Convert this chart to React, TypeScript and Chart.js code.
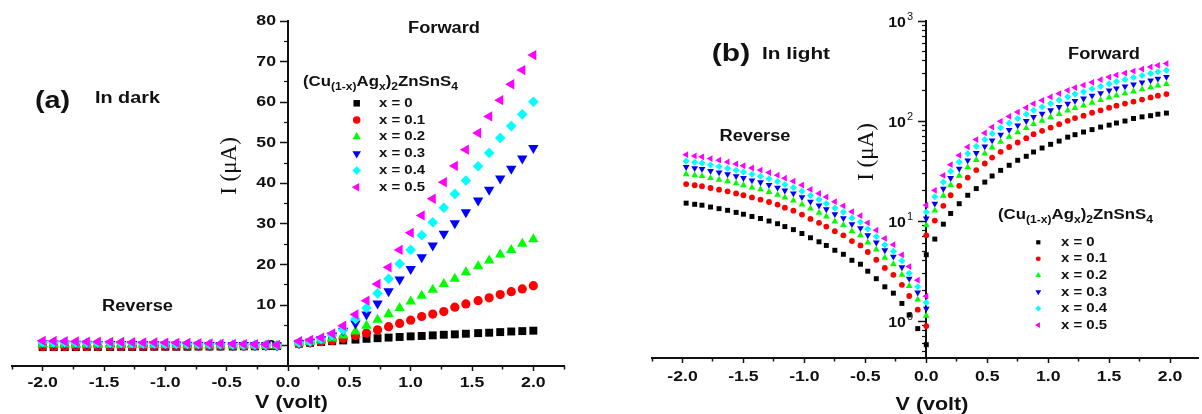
import React, { useEffect, useRef } from "react";
import { Chart, registerables } from "chart.js";
import { drawPoint } from "chart.js/helpers";

Chart.register(...registerables);

const SANS = "'Liberation Sans', Arial, Helvetica, sans-serif";
const SERIF = "'Liberation Serif', 'Times New Roman', Times, serif";
const INK = "#111111";

// ---------- series (shared) ----------
const seriesLabels = ["x = 0", "x = 0.1", "x = 0.2", "x = 0.3", "x = 0.4", "x = 0.5"];
const seriesColors = ["#000000", "#ff0000", "#00ff00", "#0000ff", "#00ffff", "#ff00ff"];
const seriesShapes = ["rect", "circle", "triangle", "triangle", "rectRot", "triangle"];
const seriesRotations = [0, 0, 0, 180, 0, -90];
const darkRadii = [5.6, 4.6, 6, 6, 5.3, 6];
const lightRadii = [3.5, 2.9, 3.9, 3.9, 3.5, 3.9];

// ---------- (a) In dark : linear ----------
const darkXRev = [-2.0, -1.91, -1.82, -1.73, -1.64, -1.55, -1.45, -1.36, -1.27, -1.18, -1.09, -1.0, -0.91, -0.82, -0.73, -0.64, -0.55, -0.45, -0.36, -0.27, -0.18, -0.09];
const darkXFwd = [0.09, 0.18, 0.27, 0.36, 0.45, 0.55, 0.64, 0.73, 0.82, 0.91, 1.0, 1.09, 1.18, 1.27, 1.36, 1.45, 1.55, 1.64, 1.73, 1.82, 1.91, 2.0];

const darkRev0 = [-0.35, -0.35, -0.35, -0.35, -0.3, -0.3, -0.3, -0.3, -0.3, -0.3, -0.25, -0.25, -0.25, -0.25, -0.2, -0.2, -0.2, -0.2, -0.15, -0.15, -0.1, -0.1];
const darkRev1 = [-0.2, -0.2, -0.2, -0.2, -0.2, -0.15, -0.15, -0.15, -0.15, -0.15, -0.1, -0.1, -0.1, -0.1, -0.1, -0.05, -0.05, -0.05, -0.05, 0.0, 0.0, 0.0];
const darkRev2 = [0.3, 0.3, 0.3, 0.25, 0.25, 0.25, 0.2, 0.2, 0.2, 0.2, 0.15, 0.15, 0.15, 0.1, 0.1, 0.1, 0.1, 0.05, 0.05, 0.05, 0.0, 0.0];
const darkRev3 = [0.6, 0.55, 0.55, 0.5, 0.5, 0.45, 0.45, 0.4, 0.4, 0.35, 0.35, 0.3, 0.3, 0.25, 0.25, 0.2, 0.2, 0.15, 0.15, 0.1, 0.1, 0.05];
const darkRev4 = [0.8, 0.75, 0.75, 0.7, 0.7, 0.65, 0.6, 0.6, 0.55, 0.5, 0.5, 0.45, 0.4, 0.4, 0.35, 0.3, 0.3, 0.25, 0.2, 0.2, 0.15, 0.1];
const darkRev5 = [1.2, 1.15, 1.1, 1.05, 1.0, 1.0, 0.95, 0.9, 0.85, 0.8, 0.8, 0.75, 0.7, 0.65, 0.6, 0.55, 0.5, 0.45, 0.4, 0.35, 0.3, 0.2];

const darkFwd0 = [0.5, 0.7, 0.9, 1.1, 1.3, 1.5, 1.7, 1.85, 2.0, 2.15, 2.3, 2.4, 2.55, 2.7, 2.8, 2.95, 3.1, 3.2, 3.35, 3.5, 3.6, 3.7];
const darkFwd1 = [0.5, 0.7, 1.0, 1.3, 1.8, 2.5, 3.1, 3.9, 4.7, 5.5, 6.3, 7.2, 7.8, 8.4, 9.5, 10.3, 11.1, 11.8, 12.6, 13.3, 14.0, 14.8];
const darkFwd2 = [0.6, 0.9, 1.3, 1.8, 2.5, 3.5, 4.9, 6.4, 7.8, 9.3, 10.9, 12.3, 13.8, 15.2, 16.5, 18.1, 19.6, 21.0, 22.5, 23.6, 25.1, 26.2];
const darkFwd3 = [0.6, 1.0, 1.6, 2.5, 3.7, 5.5, 7.7, 10.4, 13.4, 16.3, 18.9, 21.8, 24.7, 27.6, 30.2, 32.9, 35.8, 38.4, 41.2, 43.6, 46.1, 48.7];
const darkFwd4 = [0.7, 1.0, 1.6, 2.5, 3.9, 6.6, 9.3, 12.9, 16.5, 20.2, 23.6, 27.2, 30.4, 34.0, 37.4, 40.7, 44.2, 47.5, 51.2, 54.1, 57.0, 60.1];
const darkFwd5 = [1.1, 1.4, 2.0, 3.0, 4.9, 7.7, 11.1, 15.2, 19.3, 23.6, 27.8, 32.1, 36.2, 40.3, 44.3, 48.3, 52.4, 56.5, 60.5, 64.4, 67.9, 71.6];

const darkXTicks = [-2.0, -1.5, -1.0, -0.5, 0.0, 0.5, 1.0, 1.5, 2.0];
const darkXTickLabels = ["-2.0", "-1.5", "-1.0", "-0.5", "0.0", "0.5", "1.0", "1.5", "2.0"];
const darkXMinorTicks = [-2.25, -1.75, -1.25, -0.75, -0.25, 0.25, 0.75, 1.25, 1.75, 2.25];
const darkYTicks = [0, 10, 20, 30, 40, 50, 60, 70, 80];
const darkYTickLabels = ["0", "10", "20", "30", "40", "50", "60", "70", "80"];
const darkYMinorTicks = [5, 15, 25, 35, 45, 55, 65, 75];

// ---------- (b) In light : logarithmic ----------
const lightXRev = [-1.97, -1.90, -1.84, -1.77, -1.70, -1.63, -1.56, -1.50, -1.43, -1.36, -1.29, -1.22, -1.16, -1.09, -1.02, -0.95, -0.88, -0.82, -0.75, -0.68, -0.61, -0.54, -0.48, -0.41, -0.34, -0.27, -0.20, -0.14, -0.07, 0.0];
const lightXFwd = [0.0, 0.07, 0.14, 0.20, 0.27, 0.34, 0.41, 0.48, 0.54, 0.61, 0.68, 0.75, 0.82, 0.88, 0.95, 1.02, 1.09, 1.16, 1.22, 1.29, 1.36, 1.43, 1.50, 1.56, 1.63, 1.70, 1.77, 1.84, 1.90, 1.97];

const lightRev0 = [15.1, 14.7, 14.4, 13.8, 13.3, 12.8, 12.2, 11.7, 11.1, 10.6, 10.0, 9.4, 8.8, 8.2, 7.5, 6.8, 6.2, 5.7, 5.1, 4.65, 4.05, 3.7, 3.15, 2.65, 2.2, 1.9, 1.5, 1.15, 0.84, 0.58];
const lightRev1 = [23.4, 22.8, 22.3, 21.4, 20.6, 19.8, 18.9, 18.1, 17.2, 16.4, 15.5, 14.6, 13.6, 12.7, 11.6, 10.5, 9.6, 8.8, 7.9, 7.2, 6.3, 5.7, 4.9, 4.1, 3.4, 2.9, 2.3, 1.78, 1.3, 0.89];
const lightRev2 = [29.4, 28.7, 28.1, 26.9, 25.9, 25.0, 23.8, 22.8, 21.6, 20.7, 19.5, 18.3, 17.2, 16.0, 14.6, 13.3, 12.1, 11.1, 9.9, 9.1, 7.9, 7.2, 6.1, 5.2, 4.3, 3.7, 2.9, 2.24, 1.64, 1.13];
const lightRev3 = [34.7, 33.8, 33.1, 31.7, 30.6, 29.4, 28.1, 26.9, 25.5, 24.4, 23.0, 21.6, 20.2, 18.9, 17.3, 15.6, 14.3, 13.1, 11.7, 10.7, 9.3, 8.5, 7.2, 6.1, 5.1, 4.4, 3.45, 2.65, 1.93, 1.33];
const lightRev4 = [39.9, 38.8, 38.0, 36.4, 35.1, 33.8, 32.2, 30.9, 29.3, 28.0, 26.4, 24.8, 23.2, 21.6, 19.8, 18.0, 16.4, 15.0, 13.5, 12.3, 10.7, 9.8, 8.3, 7.0, 5.8, 5.0, 4.0, 3.0, 2.2, 1.53];
const lightRev5 = [46.1, 44.8, 43.9, 42.1, 40.6, 39.0, 37.2, 35.7, 33.9, 32.3, 30.5, 28.7, 26.8, 25.0, 22.9, 20.7, 18.9, 17.4, 15.6, 14.2, 12.4, 11.3, 9.6, 8.1, 6.7, 5.8, 4.6, 3.5, 2.56, 1.77];

const lightFwd0 = [4.6, 6.6, 9.3, 11.9, 14.9, 18.1, 21.1, 24.5, 28.2, 32.1, 36.1, 40.5, 44.4, 49, 53.7, 58.5, 63, 69, 73, 77.6, 82, 87, 91, 95.5, 100, 106, 110, 113, 117, 120];
const lightFwd1 = [7.2, 10.1, 14.2, 18.1, 22.5, 27.2, 32.3, 37.6, 43.1, 49.2, 55, 61, 67.3, 73.8, 79.7, 86, 93, 100.5, 107, 113, 121, 128, 136, 142.5, 149.5, 156.5, 164, 172, 179, 186];
const lightFwd2 = [9.1, 12.7, 17.9, 22.9, 28.4, 34.4, 40.8, 47.4, 54.4, 62, 69.4, 76.9, 85, 93, 100.6, 109, 117.5, 127, 135, 142.5, 152.5, 162, 172, 180, 189, 197.5, 207, 217, 226, 234];
const lightFwd3 = [10.6, 14.9, 21, 26.9, 33.4, 40.4, 47.9, 55.8, 64, 73, 81.6, 90.4, 100, 109.5, 118, 128, 138, 149, 159, 168, 179, 190, 202, 212, 222, 232, 243, 255, 265, 276];
const lightFwd4 = [12.3, 17.5, 24.6, 31.5, 39, 47.3, 56, 65.3, 74.8, 85.4, 95.5, 106, 117, 128, 138, 150, 162, 175, 186, 196, 210, 223, 236, 248, 260, 272, 285, 298, 310, 322];
const lightFwd5 = [14.4, 20.3, 28.6, 36.6, 45.4, 55, 65.2, 75.9, 87, 99.3, 111, 123, 136, 149, 161, 174, 188, 203, 216, 228, 244, 259, 275, 288, 302, 316, 331, 347, 361, 375];

const lightXTicks = [-2.0, -1.5, -1.0, -0.5, 0.0, 0.5, 1.0, 1.5, 2.0];
const lightXTickLabels = ["-2.0", "-1.5", "-1.0", "-0.5", "0.0", "0.5", "1.0", "1.5", "2.0"];
const lightXMinorTicks = [-2.25, -1.75, -1.25, -0.75, -0.25, 0.25, 0.75, 1.25, 1.75];
const lightYTicks = [1, 10, 100, 1000];
const lightYExponents = ["0", "1", "2", "3"];
const lightYMinorTicks = [0.5, 0.6, 0.7, 0.8, 0.9, 2, 3, 4, 5, 6, 7, 8, 9, 20, 30, 40, 50, 60, 70, 80, 90, 200, 300, 400, 500, 600, 700, 800, 900];

const darkRevSets = [darkRev0, darkRev1, darkRev2, darkRev3, darkRev4, darkRev5];
const darkFwdSets = [darkFwd0, darkFwd1, darkFwd2, darkFwd3, darkFwd4, darkFwd5];
const lightRevSets = [lightRev0, lightRev1, lightRev2, lightRev3, lightRev4, lightRev5];
const lightFwdSets = [lightFwd0, lightFwd1, lightFwd2, lightFwd3, lightFwd4, lightFwd5];

// ---------- text helpers ----------
function txt(ctx: CanvasRenderingContext2D, s: string, x: number, y: number, font: string, align: CanvasTextAlign = "left", sx = 1.18) {
  ctx.save();
  ctx.font = font;
  ctx.fillStyle = INK;
  ctx.textBaseline = "middle";
  ctx.textAlign = align;
  ctx.translate(x, y);
  ctx.scale(sx, 1);
  ctx.fillText(s, 0, 0);
  ctx.restore();
}

type Seg = { t: string; sub?: boolean; sup?: boolean; bold?: boolean };
function rich(ctx: CanvasRenderingContext2D, segs: Seg[], x: number, y: number, size: number, sx: number) {
  let cx = x;
  for (const sg of segs) {
    const fs = sg.sub || sg.sup ? size * 0.72 : size;
    const dy = sg.sub ? size * 0.36 : sg.sup ? -size * 0.36 : 0;
    ctx.save();
    ctx.font = `bold ${fs}px ${SANS}`;
    ctx.fillStyle = INK;
    ctx.textBaseline = "middle";
    ctx.textAlign = "left";
    const w = ctx.measureText(sg.t).width * sx;
    ctx.translate(cx, y + dy);
    ctx.scale(sx, 1);
    ctx.fillText(sg.t, 0, 0);
    ctx.restore();
    cx += w;
  }
}

const formulaSegs: Seg[] = [
  { t: "(Cu" }, { t: "(1-x)", sub: true }, { t: "Ag" }, { t: "x", sub: true }, { t: ")" }, { t: "2", sub: true }, { t: "ZnSnS" }, { t: "4", sub: true },
];

function drawLegend(ctx: CanvasRenderingContext2D, ox: number, titleX: number, titleY: number, markX: number, textX: number, rowY: number, step: number, radii: number[], k: number) {
  rich(ctx, formulaSegs, titleX - ox, titleY, 14, 1.2);
  for (let i = 0; i < seriesLabels.length; i++) {
    const y = rowY + i * step;
    ctx.save();
    ctx.fillStyle = seriesColors[i];
    ctx.strokeStyle = seriesColors[i];
    drawPoint(ctx, { pointStyle: seriesShapes[i] as any, radius: radii[i] * k, rotation: seriesRotations[i], borderWidth: 0 } as any, markX - ox, y);
    ctx.restore();
    txt(ctx, seriesLabels[i], textX - ox, y, `bold 13px ${SANS}`, "left", 1.15);
  }
}

function yLabelRot(ctx: CanvasRenderingContext2D, x: number, y: number) {
  ctx.save();
  ctx.font = `23px ${SERIF}`;
  ctx.fillStyle = INK;
  ctx.textAlign = "center";
  ctx.textBaseline = "middle";
  ctx.translate(x, y);
  ctx.rotate(-Math.PI / 2);
  ctx.fillText("I (\u03bcA)", 0, 0);
  ctx.restore();
}

const tickFont = `bold 14.5px ${SANS}`;

const darkDeco = {
  id: "darkDeco",
  beforeDatasetsDraw(chart: any) {
    const ctx = chart.ctx as CanvasRenderingContext2D;
    const xs = chart.scales.x, ys = chart.scales.y;
    darkXTicks.forEach((v, i) => txt(ctx, darkXTickLabels[i], xs.getPixelForValue(v), 383, tickFont, "center", 1.22));
    darkYTicks.forEach((v, i) => txt(ctx, darkYTickLabels[i], 276, ys.getPixelForValue(v), tickFont, "right", 1.22));
  },
  afterDatasetsDraw(chart: any) {
    const ctx = chart.ctx as CanvasRenderingContext2D;
    txt(ctx, "(a)", 52.5, 101, `bold 24px ${SANS}`, "center", 1.2);
    txt(ctx, "In dark", 95, 98, `bold 16.5px ${SANS}`, "left", 1.2);
    txt(ctx, "Forward", 444, 29, `bold 16px ${SANS}`, "center", 1.14);
    txt(ctx, "Reverse", 137.5, 307, `bold 16px ${SANS}`, "center", 1.14);
    txt(ctx, "V (volt)", 291.5, 403, `bold 19px ${SANS}`, "center", 1.13);
    yLabelRot(ctx, 230, 166);
    drawLegend(ctx, 0, 303, 82, 356.7, 379, 103.3, 16.8, darkRadii, 0.82);
  },
};

const LOX = 600;
const lightDeco = {
  id: "lightDeco",
  beforeDatasetsDraw(chart: any) {
    const ctx = chart.ctx as CanvasRenderingContext2D;
    const xs = chart.scales.x, ys = chart.scales.y;
    lightXTicks.forEach((v, i) => txt(ctx, lightXTickLabels[i], xs.getPixelForValue(v), 377, tickFont, "center", 1.22));
    lightYTicks.forEach((v, i) => {
      const py = ys.getPixelForValue(v);
      const rx = 913 - LOX;
      ctx.save();
      ctx.font = `11px ${SANS}`;
      const ew = ctx.measureText(lightYExponents[i]).width;
      ctx.restore();
      txt(ctx, lightYExponents[i], rx - ew, py - 4.5, `11px ${SANS}`, "left", 1.0);
      txt(ctx, "10", rx - ew - 1, py + 1.5, `bold 14.5px ${SANS}`, "right", 1.1);
    });
  },
  afterDatasetsDraw(chart: any) {
    const ctx = chart.ctx as CanvasRenderingContext2D;
    txt(ctx, "(b)", 731 - LOX, 54, `bold 24px ${SANS}`, "center", 1.25);
    txt(ctx, "In light", 762 - LOX, 54, `bold 17px ${SANS}`, "left", 1.22);
    txt(ctx, "Forward", 1104 - LOX, 55, `bold 16px ${SANS}`, "center", 1.14);
    txt(ctx, "Reverse", 755 - LOX, 137, `bold 16px ${SANS}`, "center", 1.14);
    txt(ctx, "V (volt)", 932 - LOX, 405, `bold 19px ${SANS}`, "center", 1.13);
    yLabelRot(ctx, 867 - LOX, 152);
    drawLegend(ctx, LOX, 998, 215, 1038.3, 1061, 242.3, 16.55, lightRadii, 0.85);
  },
};

function buildDatasets(xRev: number[], revSets: number[][], xFwd: number[], fwdSets: number[][], radii: number[]) {
  return seriesLabels.map((label, i) => ({
    label,
    data: [
      ...xRev.map((x, j) => ({ x, y: revSets[i][j] })),
      ...xFwd.map((x, j) => ({ x, y: fwdSets[i][j] })),
    ],
    showLine: false,
    pointStyle: seriesShapes[i],
    pointRotation: seriesRotations[i],
    pointRadius: radii[i],
    pointBorderWidth: 0,
    backgroundColor: seriesColors[i],
    borderColor: seriesColors[i],
    order: seriesLabels.length - i,
  }));
}

function tickSetter(vals: number[]) {
  return (s: any) => {
    s.ticks = vals.filter((v) => v >= s.min - 1e-9 && v <= s.max + 1e-9).map((v) => ({ value: v }));
  };
}

function axisBase(extra: any) {
  return {
    ticks: { display: false },
    ...extra,
  };
}

function makeScales(o: { xMin: number; xMax: number; yMin: number; yMax: number; yType: string; xTicks: number[]; xMinor: number[]; yTicks: number[]; yMinor: number[]; xH: number; yTickLen: number; yMinorLen: number }) {
  return {
    x: axisBase({
      type: "linear", axis: "x", position: "bottom", min: o.xMin, max: o.xMax,
      afterBuildTicks: tickSetter(o.xTicks),
      afterFit: (s: any) => { s.height = o.xH; },
      grid: { display: true, drawOnChartArea: false, drawTicks: true, tickLength: 5, tickWidth: 1.5, tickColor: INK, color: INK },
      border: { display: true, color: INK, width: 2 },
    }),
    xMinor: axisBase({
      type: "linear", axis: "x", position: { y: o.yMin }, min: o.xMin, max: o.xMax,
      afterBuildTicks: tickSetter(o.xMinor),
      grid: { display: true, drawOnChartArea: false, drawTicks: true, tickLength: 3.5, tickWidth: 1.5, tickColor: INK, color: INK },
      border: { display: false },
    }),
    y: axisBase({
      type: o.yType, axis: "y", position: { x: 0 }, min: o.yMin, max: o.yMax,
      afterBuildTicks: tickSetter(o.yTicks),
      grid: { display: true, drawOnChartArea: false, drawTicks: true, tickLength: o.yTickLen, tickWidth: 1.5, tickColor: INK, color: INK },
      border: { display: true, color: INK, width: 2 },
    }),
    yMinor: axisBase({
      type: o.yType, axis: "y", position: { x: 0 }, min: o.yMin, max: o.yMax,
      afterBuildTicks: tickSetter(o.yMinor),
      grid: { display: true, drawOnChartArea: false, drawTicks: true, tickLength: o.yMinorLen, tickWidth: 1.2, tickColor: INK, color: INK },
      border: { display: false },
    }),
  };
}

function baseOptions(scales: any, padding: any) {
  return {
    responsive: false,
    animation: false as const,
    devicePixelRatio: 1,
    events: [] as any[],
    layout: { padding },
    plugins: { legend: { display: false }, tooltip: { enabled: false }, title: { display: false } },
    scales,
  };
}

export default function App() {
  const refA = useRef<HTMLCanvasElement | null>(null);
  const refB = useRef<HTMLCanvasElement | null>(null);

  useEffect(() => {
    const chartA = new Chart(refA.current as HTMLCanvasElement, {
      type: "scatter",
      data: { datasets: buildDatasets(darkXRev, darkRevSets, darkXFwd, darkFwdSets, darkRadii) as any },
      options: baseOptions(
        makeScales({ xMin: -2.25, xMax: 2.25, yMin: -5, yMax: 80, yType: "linear", xTicks: darkXTicks, xMinor: darkXMinorTicks, yTicks: darkYTicks, yMinor: darkYMinorTicks, xH: 48, yTickLen: 7, yMinorLen: 4 }),
        { left: 12, right: 36, top: 21, bottom: 0 }
      ) as any,
      plugins: [darkDeco as any],
    });
    const chartB = new Chart(refB.current as HTMLCanvasElement, {
      type: "scatter",
      data: { datasets: buildDatasets(lightXRev, lightRevSets, lightXFwd, lightFwdSets, lightRadii) as any },
      options: baseOptions(
        makeScales({ xMin: -2.25, xMax: 2.229, yMin: 0.427, yMax: 1000, yType: "logarithmic", xTicks: lightXTicks, xMinor: lightXMinorTicks, yTicks: lightYTicks, yMinor: lightYMinorTicks, xH: 56, yTickLen: 7, yMinorLen: 4 }),
        { left: 52, right: 0, top: 21, bottom: 0 }
      ) as any,
      plugins: [lightDeco as any],
    });
    return () => {
      chartA.destroy();
      chartB.destroy();
    };
  }, []);

  return (
    <div style={{ position: "absolute", left: 0, top: 0, width: 1202, height: 414, background: "#ffffff", overflow: "hidden" }}>
      <canvas ref={refA} width={600} height={414} style={{ position: "absolute", left: 0, top: 0 }} />
      <canvas ref={refB} width={602} height={414} style={{ position: "absolute", left: 600, top: 0 }} />
    </div>
  );
}
